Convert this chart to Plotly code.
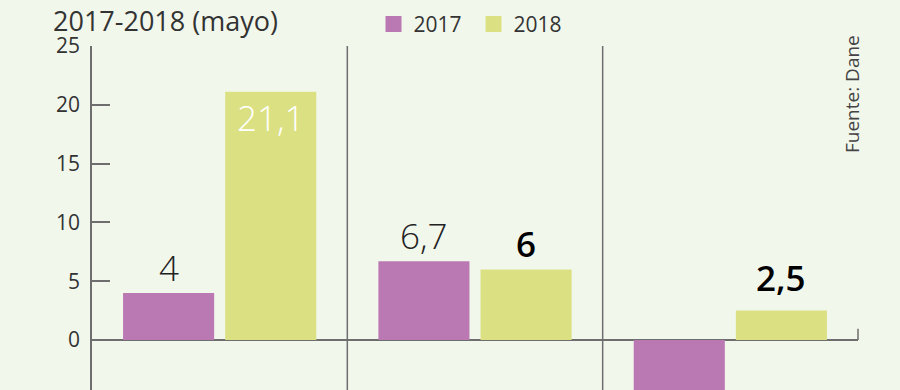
import plotly.graph_objects as go

categories = ["Grupo 1", "Grupo 2", "Grupo 3"]
series_names = ["2017", "2018"]
values_2017 = [4.0, 6.7, -5.5]
values_2018 = [21.1, 6.0, 2.5]
labels_2017 = ["4", "6,7", ""]
labels_2018 = ["21,1", "6", "2,5"]
tick_vals = [0, 5, 10, 15, 20, 25]
tick_text = ["0", "5", "10", "15", "20", "25"]

PURPLE = "#bb79b3"
GREEN = "#dbe183"
BG = "#f2f7ec"
AXIS = "#6e6e6e"
FONT = "Open Sans"
EXTRA_SHIFT = {"2,5": 8}

fig = go.Figure()
fig.add_trace(go.Bar(x=categories, y=values_2017, name=series_names[0],
                     marker=dict(color=PURPLE, line=dict(width=0)), showlegend=False))
fig.add_trace(go.Bar(x=categories, y=values_2018, name=series_names[1],
                     marker=dict(color=GREEN, line=dict(width=0)), showlegend=False))
# legend entries
for nm, col in zip(series_names, [PURPLE, GREEN]):
    fig.add_trace(go.Scatter(x=[None], y=[None], mode="markers", name=nm,
                             marker=dict(symbol="square", size=18, color=col)))

annotations = []
for i, (v, t) in enumerate(zip(values_2017, labels_2017)):
    if t:
        annotations.append(dict(x=i - 0.2, y=v, xref="x", yref="y", text=t,
                                showarrow=False, yanchor="bottom",
                                yshift=EXTRA_SHIFT.get(t, 0),
                                font=dict(family=FONT, size=35, color="#222222", weight=300)))
for i, (v, t) in enumerate(zip(values_2018, labels_2018)):
    if v > 15:
        annotations.append(dict(x=i + 0.2, y=v, xref="x", yref="y", text=t,
                                showarrow=False, yanchor="top", yshift=0,
                                font=dict(family=FONT, size=35, color="white", weight=300)))
    else:
        annotations.append(dict(x=i + 0.2, y=v, xref="x", yref="y", text=t,
                                showarrow=False, yanchor="bottom",
                                yshift=EXTRA_SHIFT.get(t, 0),
                                font=dict(family=FONT, size=35, color="black", weight=600)))

annotations.append(dict(x=-0.054, y=1, xref="paper", yref="paper", text="2017-2018 (mayo)",
                        showarrow=False, xanchor="left", yanchor="top", yshift=46,
                        font=dict(family=FONT, size=27, color="#333333")))
annotations.append(dict(x=0.992, y=0.86, xref="paper", yref="paper", text="Fuente: Dane",
                        showarrow=False, textangle=-90, xanchor="center", yanchor="middle",
                        font=dict(family=FONT, size=19, color="#444444")))

shapes = []
for b in [0.5, 1.5]:
    shapes.append(dict(type="line", xref="x", yref="paper", x0=b, x1=b, y0=0, y1=1,
                       line=dict(color=AXIS, width=1.5)))
shapes.append(dict(type="line", xref="paper", yref="y", x0=1, x1=1, y0=0, y1=0.95,
                   line=dict(color=AXIS, width=1.5)))

fig.update_layout(
    width=900, height=390,
    margin=dict(l=92, r=42, t=46, b=0, autoexpand=False),
    paper_bgcolor=BG, plot_bgcolor=BG,
    barmode="group", bargap=0.2, bargroupgap=0.108,
    showlegend=True,
    legend=dict(orientation="h", xref="container", yref="container",
                x=0.415, y=0.99, xanchor="left", yanchor="top",
                entrywidth=55, entrywidthmode="pixels",
                font=dict(family=FONT, size=21, color="#333333"),
                bgcolor="rgba(0,0,0,0)", itemclick=False),
    annotations=annotations,
    shapes=shapes,
    font=dict(family=FONT),
)
fig.update_xaxes(range=[-0.5, 2.5], showticklabels=False, showgrid=False, zeroline=False,
                 showline=False, ticks="", automargin=False)
fig.update_yaxes(range=[-4.25, 25], tickvals=tick_vals, ticktext=tick_text,
                 showgrid=False, zeroline=True, zerolinecolor=AXIS, zerolinewidth=1.5,
                 showline=True, linecolor=AXIS, linewidth=1.5,
                 ticks="inside", ticklen=18, tickcolor=AXIS, tickwidth=1.5,
                 ticklabelstandoff=6, automargin=False,
                 tickfont=dict(family=FONT, size=21, color="#333333"))

fig.write_html("out.html", config={"displayModeBar": False},
               post_script="document.body.style.margin='0';")
